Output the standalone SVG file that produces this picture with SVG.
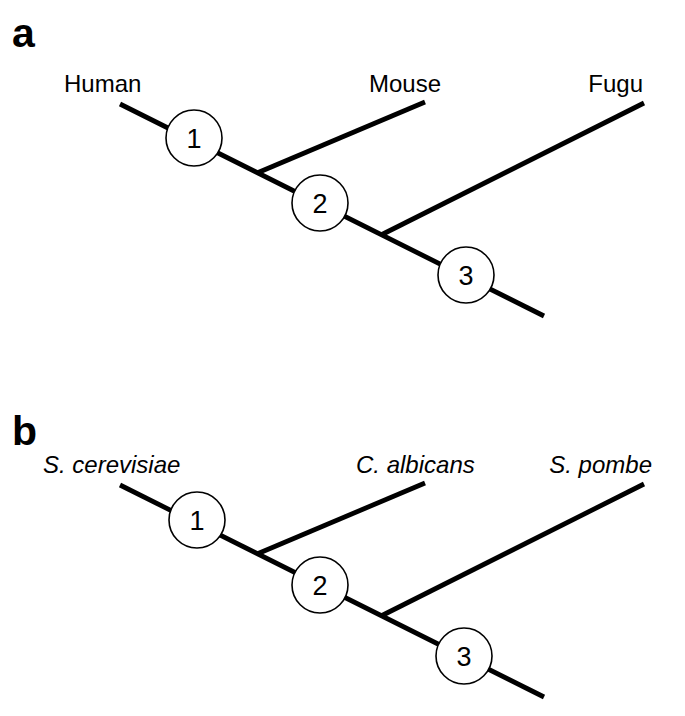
<svg xmlns="http://www.w3.org/2000/svg" width="685" height="716" viewBox="0 0 685 716">
<style>
.br{stroke:#000;stroke-width:4.8;fill:none;stroke-linecap:butt}
.nd{fill:#fff;stroke:#000;stroke-width:1.6}
.num{font-family:"Liberation Sans",Arial,sans-serif;font-size:27px;text-anchor:middle;fill:#000}
.lab{font-family:"Liberation Sans",Arial,sans-serif;font-size:24px;fill:#000}
.it{font-style:italic}
.pl{font-family:"Liberation Sans",Arial,sans-serif;font-size:41px;font-weight:bold;fill:#000}
</style>
<rect width="685" height="716" fill="#fff"/>
<text class="pl" x="12" y="47">a</text>
<text class="pl" x="12" y="445">b</text>
<g id="connectors">
<line class="br" x1="120" y1="104" x2="544" y2="316"/>
<line class="br" x1="257" y1="173" x2="425" y2="102"/>
<line class="br" x1="381" y1="235" x2="644" y2="103"/>
<line class="br" x1="120" y1="485" x2="544" y2="697"/>
<line class="br" x1="257" y1="554" x2="425" y2="483"/>
<line class="br" x1="381" y1="616" x2="644" y2="484"/>
</g>
<g id="a-human"><text class="lab" x="64" y="92">Human</text></g>
<g id="a-mouse"><text class="lab" x="369" y="92">Mouse</text></g>
<g id="a-fugu"><text class="lab" x="643" y="92" text-anchor="end">Fugu</text></g>
<g id="a-node1"><circle class="nd" cx="194" cy="138" r="28"/><text class="num" x="194" y="148">1</text></g>
<g id="a-node2"><circle class="nd" cx="320" cy="203" r="28"/><text class="num" x="320" y="213">2</text></g>
<g id="a-node3"><circle class="nd" cx="466" cy="275" r="28"/><text class="num" x="466" y="285">3</text></g>
<g id="b-scer"><text class="lab it" x="43" y="473">S. cerevisiae</text></g>
<g id="b-calb"><text class="lab it" x="356" y="473">C. albicans</text></g>
<g id="b-spom"><text class="lab it" x="652" y="473" text-anchor="end">S. pombe</text></g>
<g id="b-node1"><circle class="nd" cx="197" cy="520" r="28"/><text class="num" x="197" y="530">1</text></g>
<g id="b-node2"><circle class="nd" cx="320" cy="585" r="28"/><text class="num" x="320" y="595">2</text></g>
<g id="b-node3"><circle class="nd" cx="464" cy="656" r="28"/><text class="num" x="464" y="666">3</text></g>
</svg>
